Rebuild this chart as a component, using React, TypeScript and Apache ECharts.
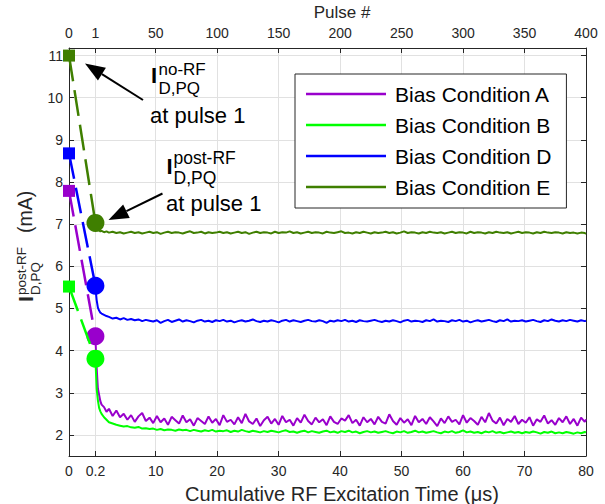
import React, { useEffect, useRef } from "react";
import * as echarts from "echarts";

const FONT = "'Liberation Sans', Arial, Helvetica, sans-serif";

// Pulse numbers at which the post-RF current was sampled
const pulses = [
  1, 2, 3, 4, 5, 6, 8, 10, 12, 15,
  18, 21, 24, 27, 30, 33, 36, 39, 42, 45,
  48, 51, 54, 57, 60, 63, 66, 69, 72, 75,
  78, 81, 84, 87, 90, 93, 96, 99, 102, 105,
  108, 111, 114, 117, 120, 123, 126, 129, 132, 135,
  138, 141, 144, 147, 150, 153, 156, 159, 162, 165,
  168, 171, 174, 177, 180, 183, 186, 189, 192, 195,
  198, 201, 204, 207, 210, 213, 216, 219, 222, 225,
  228, 231, 234, 237, 240, 243, 246, 249, 252, 255,
  258, 261, 264, 267, 270, 273, 276, 279, 282, 285,
  288, 291, 294, 297, 300, 303, 306, 309, 312, 315,
  318, 321, 324, 327, 330, 333, 336, 339, 342, 345,
  348, 351, 354, 357, 360, 363, 366, 369, 372, 375,
  378, 381, 384, 387, 390, 393, 396, 399, 400,
];

const condA = [
  4.30, 3.60, 3.10, 2.95, 2.80, 2.72, 2.66, 2.55, 2.62, 2.45,
  2.58, 2.42, 2.50, 2.36, 2.47, 2.31, 2.44, 2.52, 2.33, 2.41,
  2.28, 2.45, 2.30, 2.39, 2.24, 2.43, 2.35, 2.27, 2.46, 2.30,
  2.37, 2.22, 2.40, 2.33, 2.26, 2.44, 2.29, 2.38, 2.23, 2.47,
  2.31, 2.36, 2.25, 2.42, 2.28, 2.50, 2.32, 2.26, 2.39, 2.21,
  2.35, 2.43, 2.27, 2.38, 2.24, 2.45, 2.30, 2.36, 2.22, 2.40,
  2.29, 2.48, 2.33, 2.25, 2.41, 2.30, 2.37, 2.23, 2.44, 2.31,
  2.26, 2.39, 2.34, 2.47, 2.28, 2.36, 2.22, 2.42, 2.30, 2.38,
  2.25, 2.43, 2.31, 2.27, 2.49, 2.33, 2.24, 2.40, 2.29, 2.37,
  2.23, 2.45, 2.30, 2.38, 2.26, 2.42, 2.32, 2.21, 2.39, 2.28,
  2.44, 2.31, 2.36, 2.25, 2.47, 2.29, 2.40, 2.33, 2.24, 2.43,
  2.30, 2.52, 2.34, 2.27, 2.41, 2.23, 2.38, 2.31, 2.45, 2.26,
  2.36, 2.29, 2.42, 2.22, 2.37, 2.31, 2.46, 2.27, 2.35, 2.24,
  2.40, 2.30, 2.44, 2.26, 2.38, 2.22, 2.41, 2.31, 2.37,
];

const condB = [
  3.78, 3.10, 2.82, 2.64, 2.56, 2.50, 2.42, 2.36, 2.30, 2.27,
  2.24, 2.22, 2.20, 2.21, 2.18, 2.17, 2.19, 2.15, 2.16, 2.14,
  2.15, 2.12, 2.14, 2.11, 2.13, 2.12, 2.10, 2.13, 2.11, 2.12,
  2.09, 2.12, 2.10, 2.08, 2.11, 2.09, 2.12, 2.08, 2.10, 2.09,
  2.11, 2.07, 2.10, 2.08, 2.12, 2.09, 2.07, 2.10, 2.08, 2.06,
  2.09, 2.07, 2.10, 2.08, 2.06, 2.09, 2.11, 2.07, 2.08, 2.05,
  2.08, 2.10, 2.06, 2.09, 2.07, 2.05, 2.08, 2.10, 2.06, 2.08,
  2.05, 2.09, 2.07, 2.10, 2.06, 2.08, 2.04, 2.07, 2.09, 2.06,
  2.08, 2.05, 2.07, 2.09, 2.06, 2.04, 2.08, 2.06, 2.09, 2.05,
  2.07, 2.10, 2.06, 2.08, 2.05, 2.07, 2.09, 2.06, 2.04, 2.08,
  2.06, 2.09, 2.05, 2.07, 2.11, 2.06, 2.08, 2.05, 2.07, 2.04,
  2.08, 2.06, 2.09, 2.05, 2.07, 2.04, 2.06, 2.08, 2.05, 2.07,
  2.04, 2.07, 2.05, 2.08, 2.06, 2.03, 2.07, 2.05, 2.08, 2.04,
  2.06, 2.04, 2.07, 2.05, 2.03, 2.06, 2.04, 2.07, 2.06,
];

const condD = [
  5.50, 5.20, 5.02, 4.95, 4.90, 4.88, 4.85, 4.82, 4.80, 4.76,
  4.78, 4.74, 4.77, 4.73, 4.75, 4.72, 4.74, 4.70, 4.73, 4.71,
  4.69, 4.72, 4.66, 4.70, 4.73, 4.68, 4.71, 4.74, 4.69, 4.72,
  4.70, 4.67, 4.71, 4.73, 4.69, 4.71, 4.68, 4.72, 4.70, 4.73,
  4.69, 4.71, 4.67, 4.70, 4.72, 4.69, 4.71, 4.74, 4.70, 4.68,
  4.71, 4.69, 4.72, 4.70, 4.67, 4.71, 4.73, 4.69, 4.72, 4.70,
  4.68, 4.71, 4.73, 4.70, 4.69, 4.72, 4.70, 4.66, 4.71, 4.69,
  4.72, 4.70, 4.73, 4.69, 4.71, 4.68, 4.72, 4.70, 4.69, 4.71,
  4.73, 4.70, 4.68, 4.71, 4.69, 4.72, 4.70, 4.67, 4.71, 4.73,
  4.69, 4.71, 4.70, 4.68, 4.72, 4.70, 4.74, 4.69, 4.71, 4.70,
  4.68, 4.72, 4.70, 4.73, 4.69, 4.71, 4.67, 4.70, 4.72, 4.69,
  4.71, 4.73, 4.70, 4.68, 4.72, 4.70, 4.74, 4.69, 4.71, 4.70,
  4.72, 4.69, 4.71, 4.73, 4.70, 4.68, 4.72, 4.70, 4.74, 4.71,
  4.69, 4.72, 4.70, 4.73, 4.71, 4.69, 4.72, 4.70, 4.71,
];

const condE = [
  6.98, 6.90, 6.86, 6.85, 6.83, 6.84, 6.81, 6.83, 6.80, 6.82,
  6.79, 6.81, 6.78, 6.80, 6.82, 6.79, 6.81, 6.78, 6.80, 6.82,
  6.79, 6.81, 6.77, 6.80, 6.82, 6.79, 6.81, 6.80, 6.78, 6.81,
  6.83, 6.79, 6.80, 6.82, 6.78, 6.81, 6.79, 6.80, 6.82, 6.79,
  6.81, 6.78, 6.80, 6.82, 6.79, 6.81, 6.77, 6.80, 6.82, 6.79,
  6.81, 6.80, 6.78, 6.82, 6.79, 6.81, 6.80, 6.83, 6.79, 6.81,
  6.78, 6.80, 6.82, 6.79, 6.81, 6.80, 6.78, 6.82, 6.80, 6.79,
  6.81, 6.83, 6.79, 6.80, 6.78, 6.81, 6.79, 6.82, 6.80, 6.78,
  6.81, 6.79, 6.80, 6.82, 6.79, 6.81, 6.78, 6.80, 6.83, 6.79,
  6.81, 6.80, 6.78, 6.81, 6.79, 6.82, 6.80, 6.79, 6.81, 6.78,
  6.80, 6.82, 6.79, 6.81, 6.80, 6.78, 6.82, 6.79, 6.81, 6.80,
  6.78, 6.81, 6.79, 6.82, 6.80, 6.79, 6.81, 6.78, 6.80, 6.82,
  6.79, 6.81, 6.80, 6.78, 6.81, 6.79, 6.82, 6.80, 6.79, 6.81,
  6.80, 6.78, 6.81, 6.79, 6.80, 6.78, 6.80, 6.79, 6.77,
];

// No-RF value (pulse 0, square) and first post-RF value (pulse 1, circle)
const initPulses = [0, 1];
const initA = [7.79, 4.34];
const initB = [5.52, 3.81];
const initD = [8.68, 5.54];
const initE = [11.0, 7.03];

const seriesNames = ["Bias Condition A", "Bias Condition B", "Bias Condition D", "Bias Condition E"];
const seriesColors = ["#9900cc", "#00ff00", "#0000ff", "#3f7f00"];

// Tick labels
const pulseTicks = [0, 1, 50, 100, 150, 200, 250, 300, 350, 400];
const pulseTickLabels = ["0", "1", "50", "100", "150", "200", "250", "300", "350", "400"];
const timeTickLabels = ["0", "0.2", "10", "20", "30", "40", "50", "60", "70", "80"];
const yTicks = [2, 3, 4, 5, 6, 7, 8, 9, 10, 11];

// Broken pulse scale: segment [0,1] is stretched, [1,400] is linear
const K = 21.5;
const toU = (p: number) => (p <= 1 ? p * K : K + p - 1);
const U_MAX = toU(400);

export default function App() {
  const ref = useRef<HTMLDivElement>(null);

  useEffect(() => {
    document.body.style.margin = "0";
    const chart = echarts.init(ref.current!, null, { renderer: "svg" });

    const tickU = pulseTicks.map(toU);
    const labelFor = (labels: string[]) => (v: number) => {
      const i = tickU.findIndex((t) => Math.abs(t - v) < 1e-6);
      return i >= 0 ? labels[i] : "";
    };

    const dataSets = [condA, condB, condD, condE];
    const inits = [initA, initB, initD, initE];

    const series: any[] = [];
    dataSets.forEach((vals, k) => {
      series.push({
        type: "line",
        name: seriesNames[k],
        xAxisIndex: 0,
        yAxisIndex: 0,
        data: pulses.map((p, i) => [toU(p), vals[i]]),
        showSymbol: false,
        symbol: "none",
        lineStyle: { color: seriesColors[k], width: 2 },
        itemStyle: { color: seriesColors[k] },
        z: 3 + k * 0.01,
      });
    });
    inits.forEach((vals, k) => {
      series.push({
        type: "line",
        name: seriesNames[k] + " (start)",
        xAxisIndex: 0,
        yAxisIndex: 0,
        clip: false,
        data: initPulses.map((p, i) => ({
          value: [toU(p), vals[i]],
          symbol: i === 0 ? "rect" : "circle",
          symbolSize: i === 0 ? 12 : 18,
        })),
        showSymbol: true,
        lineStyle: { color: seriesColors[k], width: 2.5, type: [26, 9] },
        itemStyle: { color: seriesColors[k] },
        z: 5 + k * 0.01,
      });
    });

    const arrow = (tail: number[], tip: number[], L = 20, W = 7.5) => {
      const dx = tip[0] - tail[0];
      const dy = tip[1] - tail[1];
      const len = Math.hypot(dx, dy);
      const ux = dx / len;
      const uy = dy / len;
      const bx = tip[0] - ux * L;
      const by = tip[1] - uy * L;
      const nx = -uy;
      const ny = ux;
      return [
        {
          type: "line",
          shape: { x1: tail[0], y1: tail[1], x2: bx, y2: by },
          style: { stroke: "#000", lineWidth: 2 },
          z: 20,
        },
        {
          type: "polygon",
          shape: { points: [tip, [bx + nx * W, by + ny * W], [bx - nx * W, by - ny * W]] },
          style: { fill: "#000" },
          z: 20,
        },
      ];
    };

    const txt = (text: string, x: number, y: number, size: number, bold = false, fill = "#000") => ({
      type: "text",
      x,
      y,
      z: 20,
      style: {
        text,
        fill,
        fontSize: size,
        fontFamily: FONT,
        fontWeight: bold ? "bold" : "normal",
        textAlign: "left",
        align: "left",
        textVerticalAlign: "middle",
        verticalAlign: "middle",
      },
    });

    const graphic: any[] = [
      ...arrow([143, 100], [85, 63.5]),
      ...arrow([162.5, 193.5], [108.5, 220]),
      txt("I", 151, 75.5, 22, true),
      txt("no-RF", 158.5, 69.4, 17),
      txt("D,PQ", 158.5, 88, 17),
      txt("at pulse 1", 150, 115.5, 22),
      txt("I", 166.5, 166.7, 22, true),
      txt("post-RF", 173.5, 158, 17.5),
      txt("D,PQ", 173.5, 178, 17.5),
      txt("at pulse 1", 166, 203.5, 22),
      {
        type: "group",
        x: 0,
        y: 302,
        rotation: Math.PI / 2,
        children: [
          txt("I", 0, 25.2, 21, true, "#262626"),
          txt("post-RF", 7, 21.8, 13.5, false, "#262626"),
          txt("D,PQ", 7, 35.5, 13.5, false, "#262626"),
          txt("(mA)", 69, 25.4, 19.5, false, "#262626"),
        ],
      },
    ];

    const axisLineStyle = { color: "#262626", width: 1 };

    const option: any = {
      animation: false,
      backgroundColor: "#ffffff",
      textStyle: { fontFamily: FONT },
      grid: { left: 69, right: 19, top: 48, bottom: 48, containLabel: false, outerBoundsMode: "none" },
      legend: {
        data: seriesNames.map((n) => ({ name: n, icon: "rect" })),
        orient: "vertical",
        left: 295,
        top: 74,
        itemWidth: 80,
        itemHeight: 2.5,
        itemGap: 7,
        padding: [8, 15, 9, 11],
        borderColor: "#262626",
        borderWidth: 1,
        backgroundColor: "#ffffff",
        selectedMode: false,
        textStyle: { fontSize: 21, color: "#000", fontFamily: FONT, lineHeight: 24, padding: [0, 0, 0, 4] },
        z: 10,
      },
      xAxis: [
        {
          type: "value",
          position: "bottom",
          min: 0,
          max: U_MAX,
          axisLine: { show: true, onZero: false, lineStyle: axisLineStyle },
          axisTick: { show: true, inside: true, length: 5, customValues: tickU, lineStyle: axisLineStyle },
          axisLabel: {
            customValues: tickU,
            formatter: labelFor(timeTickLabels),
            fontSize: 14,
            color: "#262626",
            margin: 8,
            fontFamily: FONT,
          },
          splitLine: { show: true, lineStyle: { color: "#e1e1e1", width: 1 } },
          name: "Cumulative RF Excitation Time (μs)",
          nameLocation: "middle",
          nameGap: 28,
          nameTextStyle: { fontSize: 20, color: "#262626", fontFamily: FONT, padding: [0, 0, 0, 29] },
        },
        {
          type: "value",
          position: "top",
          min: 0,
          max: U_MAX,
          axisLine: { show: true, onZero: false, lineStyle: axisLineStyle },
          axisTick: { show: true, inside: true, length: 5, customValues: tickU, lineStyle: axisLineStyle },
          axisLabel: {
            customValues: tickU,
            formatter: labelFor(pulseTickLabels),
            fontSize: 14,
            color: "#262626",
            margin: 8,
            fontFamily: FONT,
          },
          splitLine: { show: false },
          name: "Pulse #",
          nameLocation: "middle",
          nameGap: 18,
          nameTextStyle: { fontSize: 17, color: "#262626", fontFamily: FONT, padding: [0, 0, 0, 29] },
        },
      ],
      yAxis: [
        {
          type: "value",
          position: "left",
          min: 1.5,
          max: 11.18,
          interval: 1,
          axisLine: { show: true, onZero: false, lineStyle: axisLineStyle },
          axisTick: { show: true, inside: true, length: 5, customValues: yTicks, lineStyle: axisLineStyle },
          axisLabel: { customValues: yTicks, fontSize: 14, color: "#262626", margin: 6, fontFamily: FONT },
          splitLine: { show: true, lineStyle: { color: "#e1e1e1", width: 1 } },
        },
        {
          type: "value",
          position: "right",
          min: 1.5,
          max: 11.18,
          interval: 1,
          axisLine: { show: true, onZero: false, lineStyle: axisLineStyle },
          axisTick: { show: true, inside: true, length: 5, customValues: yTicks, lineStyle: axisLineStyle },
          axisLabel: { show: false },
          splitLine: { show: false },
        },
      ],
      series,
      graphic,
    };

    chart.setOption(option);
    return () => chart.dispose();
  }, []);

  return <div ref={ref} style={{ width: 605, height: 504 }} />;
}
